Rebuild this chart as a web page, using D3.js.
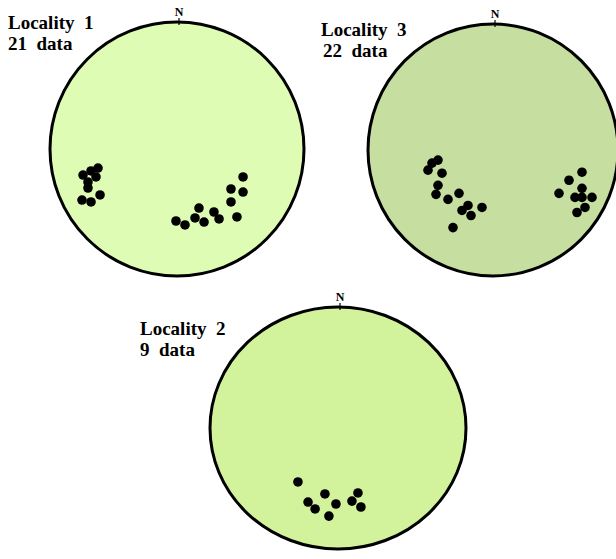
<!DOCTYPE html>
<html><head><meta charset="utf-8">
<script src="https://cdn.jsdelivr.net/npm/d3@7"></script>
</head><body style="margin:0;background:#fff">
<svg id="c" width="616" height="559" style="display:block"></svg>
<script>
// Data: poles in normalized stereonet coordinates (east, north), unit circle
const loc1East  = [-0.740,-0.677,-0.622,-0.638,-0.701,-0.701,-0.606,-0.748,-0.677, 0.520,0.425,0.520,0.425,0.173,0.291,0.331,0.472,-0.008,0.063,0.142,0.213];
const loc1North = [-0.205,-0.173,-0.150,-0.220,-0.260,-0.307,-0.362,-0.402,-0.417,-0.220,-0.315,-0.339,-0.417,-0.465,-0.496,-0.551,-0.535,-0.567,-0.598,-0.543,-0.575];
const loc3East  = [-0.440,-0.488,-0.520,-0.408,-0.440,-0.456,-0.360,-0.272,-0.200,-0.248,-0.176,-0.088,-0.320, 0.712,0.608,0.712,0.528,0.656,0.712,0.792,0.736,0.672];
const loc3North = [-0.080,-0.104,-0.160,-0.184,-0.280,-0.352,-0.392,-0.344,-0.440,-0.480,-0.520,-0.456,-0.616,-0.176,-0.240,-0.304,-0.344,-0.376,-0.376,-0.376,-0.456,-0.496];
const loc2East  = [-0.313,-0.102,-0.234,-0.179,-0.016,-0.071,0.156,0.109,0.179];
const loc2North = [-0.446,-0.545,-0.612,-0.669,-0.628,-0.728,-0.537,-0.604,-0.653];
const labels = ["Locality\u00a0 1","Locality\u00a0 3","Locality\u00a0 2"];
const counts = ["21\u00a0 data","22\u00a0 data","9\u00a0 data"];

const svg = d3.select("#c");
const nets = [
  {east:loc1East, north:loc1North, title:labels[0], count:counts[0], cx:177, cy:149, rx:127, ry:127, fill:"#dffcb4", tx:8, ty:29, ty2:50},
  {east:loc3East, north:loc3North, title:labels[1], count:counts[1], cx:493, cy:150, rx:125, ry:126, fill:"#c6dfa0", tx:321, ty:36, ty2:57, tx2:323},
  {east:loc2East, north:loc2North, title:labels[2], count:counts[2], cx:338, cy:428, rx:128, ry:121, fill:"#d3f29c", tx:140, ty:335, ty2:356}
];
const serif = '"Liberation Serif"';

nets.forEach(n => {
  const x = d3.scaleLinear().domain([-1,1]).range([n.cx-n.rx, n.cx+n.rx]);
  const y = d3.scaleLinear().domain([-1,1]).range([n.cy+n.ry, n.cy-n.ry]);
  const g = svg.append("g");
  g.append("ellipse").attr("cx", x(0)).attr("cy", y(0)).attr("rx", n.rx).attr("ry", n.ry)
    .attr("fill", n.fill).attr("stroke", "#000").attr("stroke-width", 3);
  g.append("line").attr("x1", x(0)+2).attr("x2", x(0)+2).attr("y1", y(1)-4).attr("y2", y(1)+3)
    .attr("stroke", "#000").attr("stroke-width", 1.2);
  g.append("text").attr("x", x(0)+2).attr("y", y(1)-6).attr("text-anchor","middle")
    .style("font-family", serif).style("font-weight","bold").style("font-size","12px").text("N");
  g.selectAll("circle.pt").data(d3.range(n.east.length)).enter().append("circle")
    .attr("class","pt").attr("cx", i => x(n.east[i])).attr("cy", i => y(n.north[i]))
    .attr("r", 4.8).attr("fill", "#000");
  g.append("text").attr("x", n.tx).attr("y", n.ty)
    .style("font-family", serif).style("font-weight","bold").style("font-size","19px").text(n.title);
  g.append("text").attr("x", n.tx2 || n.tx).attr("y", n.ty2)
    .style("font-family", serif).style("font-weight","bold").style("font-size","19px").text(n.count);
});
</script>
</body></html>
